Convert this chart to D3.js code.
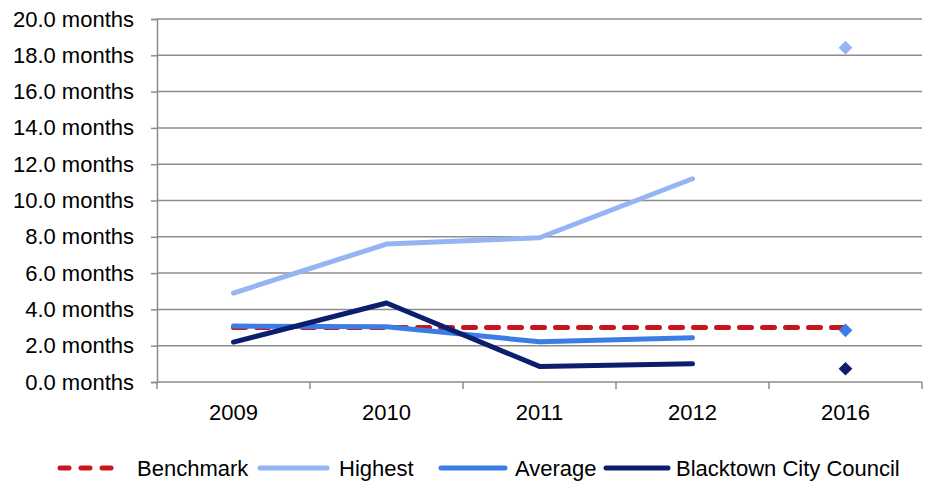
<!DOCTYPE html>
<html>
<head>
<meta charset="utf-8">
<script src="https://cdn.jsdelivr.net/npm/d3@7"></script>
<style>
  body { margin: 0; background: #fff; }
  text { font-family: "Liberation Sans", Arial, sans-serif; fill: #000; }
</style>
</head>
<body>
<div class="plot"></div>
<script>
// DATA
var years = ["2009", "2010", "2011", "2012", "2016"];
var benchmark = [3.0, 3.0, 3.0, 3.0, 3.0];
var highest = [4.9, 7.6, 7.95, 11.2, null];
var average = [3.08, 3.04, 2.22, 2.44, null];
var blacktown = [2.2, 4.35, 0.86, 1.0, null];
// 2016 targets drawn as diamonds
var target2016 = [
  { name: "Highest", value: 18.42 },
  { name: "Average", value: 2.85 },
  { name: "Blacktown City Council", value: 0.73 }
];
var yTicks = [0, 2, 4, 6, 8, 10, 12, 14, 16, 18, 20];

var w = 940;
var h = 504;
var margin = { left: 157, right: 18, top: 19, bottom: 122 };
var fontSize = "22px";

var series = [
  { name: "Benchmark", values: benchmark, color: "#c8161f", dash: "12,11" },
  { name: "Highest", values: highest, color: "#94b4f2", dash: null },
  { name: "Average", values: average, color: "#3b7de6", dash: null },
  { name: "Blacktown City Council", values: blacktown, color: "#0c1f6e", dash: null }
];
var colorOf = {};
series.forEach(function (s) { colorOf[s.name] = s.color; });

var svg = d3.select(".plot").append("svg").attr("width", w).attr("height", h);

// SCALES
var xScale = d3.scaleBand()
  .domain(years)
  .range([margin.left, w - margin.right]);

var yScale = d3.scaleLinear()
  .domain([0, 20])
  .range([h - margin.bottom, margin.top]);

// GRIDLINES
svg.append("g")
  .selectAll("line")
  .data(yTicks.slice(1))
  .enter()
  .append("line")
  .attr("x1", margin.left)
  .attr("x2", w - margin.right)
  .attr("y1", function (d) { return yScale(d); })
  .attr("y2", function (d) { return yScale(d); })
  .attr("stroke", "#8c8c8c")
  .attr("stroke-width", 1.5);

// Y AXIS
var yAxis = d3.axisLeft(yScale)
  .tickValues(yTicks)
  .tickSize(6)
  .tickPadding(17)
  .tickFormat(function (d) { return d3.format(".1f")(d) + " months"; });

var gy = svg.append("g")
  .attr("transform", "translate(" + margin.left + ",0)")
  .call(yAxis);
gy.select(".domain").attr("stroke", "#8c8c8c").attr("stroke-width", 1.5);
gy.selectAll(".tick line").attr("stroke", "#8c8c8c").attr("stroke-width", 1.5);
gy.selectAll("text").attr("font-size", fontSize).attr("fill", "#000")
  .style("font-family", "'Liberation Sans', Arial, sans-serif");

// X AXIS (ticks at category boundaries)
var bounds = years.map(function (y) { return xScale(y); }).concat([w - margin.right]);
var gx = svg.append("g");
gx.append("line")
  .attr("x1", margin.left)
  .attr("x2", w - margin.right)
  .attr("y1", yScale(0))
  .attr("y2", yScale(0))
  .attr("stroke", "#8c8c8c")
  .attr("stroke-width", 1.5);
gx.selectAll(".bt")
  .data(bounds)
  .enter()
  .append("line")
  .attr("x1", function (d) { return d; })
  .attr("x2", function (d) { return d; })
  .attr("y1", yScale(0))
  .attr("y2", yScale(0) + 7)
  .attr("stroke", "#8c8c8c")
  .attr("stroke-width", 1.5);
gx.selectAll("text")
  .data(years)
  .enter()
  .append("text")
  .attr("x", function (d) { return xScale(d) + xScale.bandwidth() / 2; })
  .attr("y", yScale(0) + 38)
  .attr("text-anchor", "middle")
  .attr("font-size", fontSize)
  .text(function (d) { return d; });

// LINES
var line = d3.line()
  .defined(function (d) { return d.v !== null; })
  .x(function (d) { return xScale(d.year) + xScale.bandwidth() / 2; })
  .y(function (d) { return yScale(d.v); });

series.forEach(function (s) {
  var pts = years.map(function (y, i) { return { year: y, v: s.values[i] }; });
  svg.append("path")
    .datum(pts)
    .attr("d", line)
    .attr("fill", "none")
    .attr("stroke", s.color)
    .attr("stroke-width", 5)
    .attr("stroke-linecap", "round")
    .attr("stroke-linejoin", "round")
    .attr("stroke-dasharray", s.dash);
});

// 2016 DIAMONDS
svg.selectAll(".diamond")
  .data(target2016)
  .enter()
  .append("path")
  .attr("class", "diamond")
  .attr("d", d3.symbol().type(d3.symbolDiamond2).size(120))
  .attr("transform", function (d) {
    return "translate(" + (xScale("2016") + xScale.bandwidth() / 2) + "," + yScale(d.value) + ")";
  })
  .attr("fill", function (d) { return colorOf[d.name]; });

// LEGEND
var legendItems = [
  { name: "Benchmark", x0: 60, x1: 122, tx: 137 },
  { name: "Highest", x0: 260, x1: 327, tx: 339 },
  { name: "Average", x0: 441, x1: 505, tx: 515 },
  { name: "Blacktown City Council", x0: 606, x1: 668, tx: 676 }
];
var legendY = 468;
var lg = svg.append("g");
legendItems.forEach(function (it) {
  var s = series.filter(function (d) { return d.name === it.name; })[0];
  lg.append("line")
    .attr("x1", it.x0)
    .attr("x2", it.x1)
    .attr("y1", legendY)
    .attr("y2", legendY)
    .attr("stroke", s.color)
    .attr("stroke-width", 5)
    .attr("stroke-linecap", "round")
    .attr("stroke-dasharray", s.dash ? "9,12" : null);
  lg.append("text")
    .attr("x", it.tx)
    .attr("y", legendY + 8)
    .attr("font-size", fontSize)
    .text(it.name);
});
</script>
</body>
</html>
